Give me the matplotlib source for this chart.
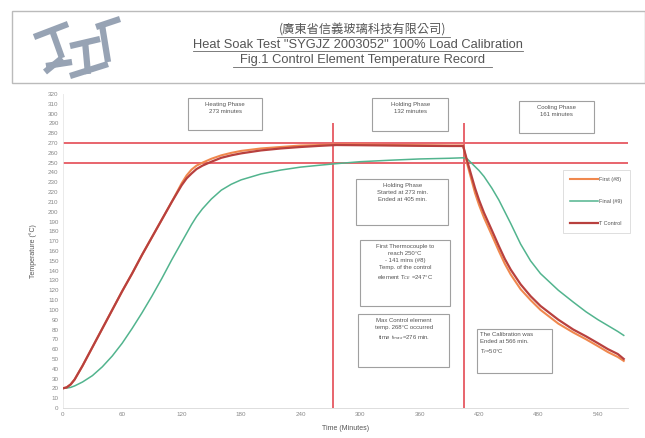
import matplotlib
matplotlib.use("Agg")
import matplotlib.pyplot as plt
from matplotlib.patches import Rectangle
from matplotlib.lines import Line2D

plt.rcParams['font.family'] = ['Liberation Sans', 'DejaVu Sans']

# data (minutes, deg C)
time = [0, 4, 8, 12, 16, 20, 30, 40, 50, 60, 70, 80, 90, 100, 110, 120, 125, 130, 135, 141, 150, 160,
        170, 180, 200, 220, 240, 260, 276, 300, 330, 360, 390, 404, 408, 412, 416, 420, 425, 433, 440, 446,
        452, 462, 472, 482, 500, 515, 528, 540, 550, 560, 566]
t_control = [20, 21, 24, 29, 36, 43, 62, 81, 100, 119, 137, 156, 174, 192, 210, 227, 234, 239, 243.5, 247, 251, 255,
             257.5, 259.5, 262.5, 264.5, 266, 267.2, 268, 267.8, 267.5, 267.2, 267, 267, 252, 238, 224, 212, 199, 181, 165, 152,
             141, 126, 114, 104, 90, 80, 73, 66, 60, 55, 50]
t_first8 = [20, 21, 24, 29, 36, 43, 62, 81, 100, 119, 137, 156, 174, 192, 210, 229, 237, 243, 247, 250, 254, 257.5,
            260, 262, 264.5, 266, 267.5, 268, 268.5, 268.5, 268, 267.8, 267.5, 267.5, 249, 234, 219, 207, 194, 176, 160, 147,
            136, 121, 110, 100, 86, 77, 70, 63, 57, 52, 48]
t_final9 = [20, 20.3, 21, 22.5, 24.5, 26.5, 33, 42, 53, 66, 81, 97, 114, 132, 151, 169, 178, 187, 195, 203, 213, 222,
            228, 232.5, 238.5, 242.5, 245.5, 247.5, 249, 251, 252.5, 253.8, 254.5, 255, 254, 250, 246, 242, 236, 224, 212, 200,
            188, 167, 150, 137, 120, 108, 98, 90, 84, 78, 74]

limits = [250, 270]
phase_marks = [273, 405]
y_ticks = list(range(0, 330, 10))
x_ticks = list(range(0, 541, 60))

W, H = 645, 438
fig = plt.figure(figsize=(W / 100, H / 100), dpi=100)


def fx(x):
    return x / W


def fy(y):
    return 1 - y / H


ax = fig.add_axes([fx(62.7), fy(408), (627.7 - 62.7) / W, (408 - 94) / H])
ax.set_xlim(0, 570)
ax.set_ylim(0, 320)

red = '#e8646c'
for lv in limits:
    ax.axhline(lv, color=red, lw=1.4, zorder=2)
for pm in phase_marks:
    ax.vlines(pm, 0, 290, color=red, lw=1.4, zorder=2)

ax.plot(time, t_final9, color='#52b48e', lw=1.1, label='Final (#9)', zorder=3)
ax.plot(time, t_first8, color='#f0884e', lw=1.5, label='First (#8)', zorder=3)
ax.plot(time, t_control, color='#b8403e', lw=1.6, label='T Control', zorder=4)

ax.set_xticks(x_ticks)
ax.set_yticks(y_ticks)
ax.tick_params(labelsize=4.5, colors='#888888', length=0, pad=3)
for s in ['top', 'right']:
    ax.spines[s].set_visible(False)
ax.spines['left'].set_color('#e6e6e6')
ax.spines['bottom'].set_color('#d8d8d8')
ax.spines['left'].set_linewidth(0.6)
ax.spines['bottom'].set_linewidth(0.6)

ax.set_ylabel('Temperature (°C)', fontsize=5, color='#555555', labelpad=8)
ax.set_xlabel('Time (Minutes)', fontsize=5, color='#555555', labelpad=6)


def note(x0, x1, y0, y1, txt, ha='center'):
    ax.add_patch(Rectangle((x0, y0), x1 - x0, y1 - y0, fill=True, facecolor='white',
                           edgecolor='#a0a0a0', lw=0.8, zorder=5, clip_on=False))
    tx = (x0 + x1) / 2 if ha == 'center' else x0 + 3
    ax.text(tx, y1 - 4, txt, ha=ha, va='top', fontsize=4.3, color='#555555',
            linespacing=1.5, zorder=6)


note(126.5, 201, 283, 316, 'Heating Phase\n273 minutes')
note(312, 389, 282, 316, 'Holding Phase\n132 minutes')
note(460.5, 536, 280, 313, 'Cooling Phase\n161 minutes')
note(296, 389, 187, 233, 'Holding Phase\nStarted at 273 min.\nEnded at 405 min.')
note(300, 391, 104, 171, 'First Thermocouple to\nreach 250°C\n- 141 mins (#8)\n'
     'Temp. of the control\nelement T$_{CE}$ =247°C')
note(298, 390, 42, 96, 'Max Control element\ntemp. 268°C occurred\ntime t$_{max}$=276 min.')
note(418, 494, 36, 81, 'The Calibration was\nEnded at 566 min.\nT$_f$=50°C', ha='left')

handles, labels = ax.get_legend_handles_labels()
order = [1, 0, 2]
leg = fig.legend([handles[i] for i in order], [labels[i] for i in order],
                 loc='upper left', bbox_to_anchor=(fx(563), fy(170)), fontsize=4,
                 frameon=True, fancybox=False, edgecolor='#d0d0d0', labelspacing=3.0,
                 handlelength=5, handletextpad=0.2, borderpad=1.3, borderaxespad=0)
leg.get_frame().set_linewidth(0.6)
for t in leg.get_texts():
    t.set_color('#555555')

# header frame with logo and titles
fig.add_artist(Rectangle((fx(12), fy(83)), fx(645) - fx(12), fy(10.7) - fy(83),
                         transform=fig.transFigure, fill=False, edgecolor='#bbbbbb', lw=1))
logo = [
    [(34, 37), (68, 24)],
    [(52, 30), (62, 58)],
    [(62, 58), (45, 72)],
    [(46, 66), (72, 62)],
    [(70, 46), (100, 39)],
    [(85, 41), (88, 74)],
    [(70, 76), (108, 64)],
    [(96, 27), (120, 19)],
    [(102, 25), (108, 62)],
]
for seg in logo:
    xs = [fx(p[0]) for p in seg]
    ys = [fy(p[1]) for p in seg]
    fig.add_artist(Line2D(xs, ys, color='#97a3b4', lw=4.5, solid_capstyle='butt',
                          transform=fig.transFigure))

fig.text(fx(363), fy(30), '(廣東省信義玻璃科技有限公司)', ha='center', va='center', fontsize=8.8,
         color='#555555', family=['Noto Sans CJK TC', 'DejaVu Sans'])
fig.text(fx(358), fy(44.5), 'Heat Soak Test "SYGJZ 2003052" 100% Load Calibration',
         ha='center', va='center', fontsize=9.3, color='#555555')
fig.text(fx(362), fy(60), 'Fig.1 Control Element Temperature Record',
         ha='center', va='center', fontsize=9.3, color='#555555')
for y, x0, x1 in [(36.5, 277, 450), (51, 193, 523), (66.5, 233, 492)]:
    fig.add_artist(Line2D([fx(x0), fx(x1)], [fy(y), fy(y)], color='#666666', lw=0.6,
                          transform=fig.transFigure))

fig.savefig('out.png', dpi=100, facecolor='white')
